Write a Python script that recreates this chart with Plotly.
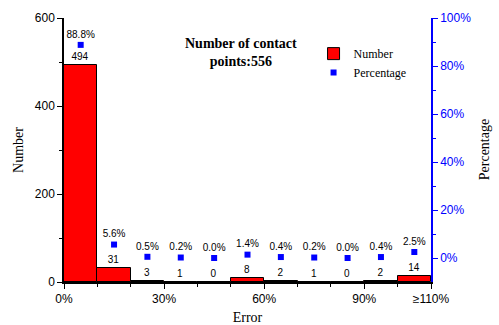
import plotly.graph_objects as go

bin_centers = [5, 15, 25, 35, 45, 55, 65, 75, 85, 95, 105]
counts = [494, 31, 3, 1, 0, 8, 2, 1, 0, 2, 14]
percentages = [88.8, 5.6, 0.5, 0.2, 0.0, 1.4, 0.4, 0.2, 0.0, 0.4, 2.5]
x_tick_vals = [0, 30, 60, 90, 110]
x_tick_text = ["0%", "30%", "60%", "90%", "\u2265110%"]
y2_tick_vals = [0, 20, 40, 60, 80, 100]
y2_tick_text = ["0%", "20%", "40%", "60%", "80%", "100%"]

serif = "Liberation Serif, Times New Roman, serif"
sans = "Liberation Sans, Arial, sans-serif"

fig = go.Figure()
fig.add_trace(go.Bar(
    x=bin_centers, y=counts, width=10, name="Number",
    marker=dict(color="#ff0000", line=dict(color="black", width=1)),
    text=[str(c) for c in counts], textposition="outside",
    textfont=dict(family=sans, size=10, color="black"),
    cliponaxis=False,
))
fig.add_trace(go.Scatter(
    x=bin_centers, y=percentages, yaxis="y2", name="Percentage",
    mode="markers+text",
    marker=dict(symbol="square", color="#0000ff", size=6),
    text=[f"{p:.1f}%" for p in percentages], textposition="top center",
    textfont=dict(family=sans, size=10, color="black"),
    cliponaxis=False,
))

fig.update_layout(
    width=499, height=325,
    margin=dict(l=64, r=68, t=18, b=43, autoexpand=False),
    paper_bgcolor="white", plot_bgcolor="white",
    bargap=0, showlegend=True,
    legend=dict(x=0.68, y=0.92, xanchor="left", yanchor="top",
                font=dict(family=serif, size=12, color="black"),
                bgcolor="rgba(0,0,0,0)", tracegroupgap=0, itemwidth=30),
    xaxis=dict(range=[0, 110], tickmode="array", tickvals=x_tick_vals,
               ticktext=x_tick_text, ticks="outside", ticklen=5,
               tickcolor="black", showline=True, linecolor="black",
               linewidth=1.5, showgrid=False, zeroline=False,
               tickfont=dict(family=sans, size=12, color="black"),
               minor=dict(dtick=10, ticks="outside", ticklen=3, tickcolor="black"),
               title=dict(text="Error", font=dict(family=serif, size=14, color="black"),
                          standoff=8)),
    xaxis2=dict(range=[0, 110], overlaying="x", side="top", anchor="y",
                tickmode="array", tickvals=[0, 30, 60, 90], showticklabels=False,
                ticks="inside", ticklen=5, tickcolor="black",
                showline=True, linecolor="black", linewidth=1.5,
                showgrid=False, zeroline=False,
                minor=dict(dtick=10, ticks="inside", ticklen=3, tickcolor="black")),
    yaxis=dict(range=[0, 600], tickvals=[0, 200, 400, 600], ticks="outside",
               ticklen=5, tickcolor="black", showline=True, linecolor="black",
               linewidth=1.5, showgrid=False, zeroline=False,
               tickfont=dict(family=sans, size=12, color="black"),
               minor=dict(dtick=100, ticks="outside", ticklen=3, tickcolor="black"),
               title=dict(text="Number", font=dict(family=serif, size=14, color="black"),
                          standoff=8)),
    yaxis2=dict(range=[-10, 100], overlaying="y", side="right", anchor="x",
                tickmode="array", tickvals=y2_tick_vals, ticktext=y2_tick_text,
                ticks="outside", ticklen=5, tickcolor="#0000ff",
                showline=True, linecolor="#0000ff", linewidth=1.5,
                showgrid=False, zeroline=False,
                tickfont=dict(family=sans, size=12, color="#0000ff"),
                minor=dict(tickvals=[10, 30, 50, 70, 90], ticks="outside",
                           ticklen=3, tickcolor="#0000ff")),
    annotations=[
        dict(text="<b>Number of contact<br>points:556</b>", x=0.482, y=0.94,
             xref="paper", yref="paper", xanchor="center", yanchor="top",
             showarrow=False, align="center",
             font=dict(family=serif, size=14, color="black")),
        dict(text="Percentage", x=1.145, y=0.5, xref="paper", yref="paper",
             xanchor="center", yanchor="middle", textangle=-90, showarrow=False,
             font=dict(family=serif, size=14, color="black")),
    ],
)

fig.write_html("out.html", config={"displayModeBar": False},
               post_script="document.body.style.margin='0';document.body.style.overflow='hidden';")
